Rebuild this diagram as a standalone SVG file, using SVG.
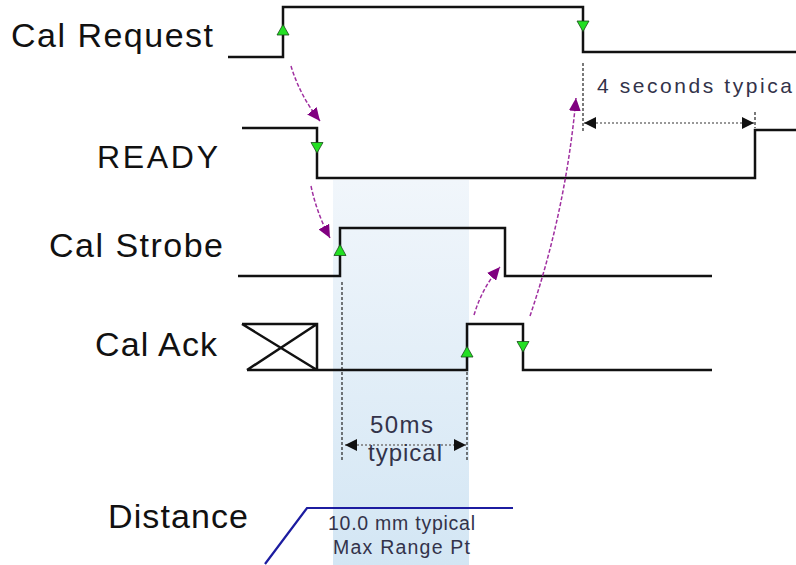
<svg xmlns="http://www.w3.org/2000/svg" width="796" height="565" viewBox="0 0 796 565">
<style>
.lbl{font-family:"Liberation Sans",Arial,sans-serif;font-size:34px;fill:#111}
.sig{fill:none;stroke:#111;stroke-width:2.5;stroke-linejoin:miter}
.edge{fill:#22e022;stroke:#1a4a1a;stroke-width:0.8}
.vdash{fill:none;stroke:#222;stroke-width:1.2;stroke-dasharray:3,2}
.dim{fill:none;stroke:#777;stroke-width:1.5;stroke-dasharray:2,2}
.note{font-family:"Liberation Sans",Arial,sans-serif;fill:#33334a}
.cause{fill:none;stroke:#a030a0;stroke-width:1.5;stroke-dasharray:4,2}
</style>
<defs>
<linearGradient id="shade" x1="0" y1="0" x2="0" y2="1">
<stop offset="0" stop-color="#f1f6fb"/>
<stop offset="1" stop-color="#d3e6f4"/>
</linearGradient>
<marker id="ph" markerUnits="userSpaceOnUse" markerWidth="14" markerHeight="12" refX="13" refY="6" orient="auto">
<path d="M0,0 L13,6 L0,12 Z" fill="#800080"/>
</marker>
<marker id="dh" markerUnits="userSpaceOnUse" markerWidth="13" markerHeight="12" refX="12" refY="6" orient="auto-start-reverse">
<path d="M0,0 L12,6 L0,12 Z" fill="#111"/>
</marker>
</defs>
<rect x="0" y="0" width="796" height="565" fill="#fff"/>
<rect id="window" x="333" y="180" width="136" height="385" fill="url(#shade)"/>

<g id="cal-request">
<text class="lbl" x="11" y="47" textLength="202" lengthAdjust="spacing">Cal Request</text>
<path class="sig" d="M228,57 H283 V7 H583 V52 H796"/>
<path class="edge" d="M283,24.5 L277,35 L289,35 Z"/>
<path class="edge" d="M577,21 L589,21 L583,31.5 Z"/>
</g>

<g id="ready">
<text class="lbl" x="97" y="168" textLength="121" lengthAdjust="spacing" style="font-size:32px">READY</text>
<path class="sig" d="M242,128 H317 V178 H755 V130 H796"/>
<path class="edge" d="M311,142.5 L323,142.5 L317,153 Z"/>
</g>

<g id="cal-strobe">
<text class="lbl" x="49" y="257" textLength="174" lengthAdjust="spacing">Cal Strobe</text>
<path class="sig" d="M238,276 H340 V228 H505 V276 H712"/>
<path class="edge" d="M340,244.5 L334,255.5 L346,255.5 Z"/>
</g>

<g id="cal-ack">
<text class="lbl" x="95" y="356" textLength="122" lengthAdjust="spacing">Cal Ack</text>
<path class="sig" d="M242,324 H317 V370 M242,324 L317,370 M317,324 L247,370 M247,370 H467 V324 H523 V370 H712"/>
<path class="edge" d="M467,346.5 L461,357 L473,357 Z"/>
<path class="edge" d="M517,341.5 L529,341.5 L523,352 Z"/>
</g>

<g id="distance">
<text class="lbl" x="108" y="528" textLength="140" lengthAdjust="spacing">Distance</text>
<path d="M265,564 L307,508 H513" fill="none" stroke="#1c1ca0" stroke-width="2.2"/>
<text class="note" x="328" y="530" font-size="19.5" textLength="147" lengthAdjust="spacing">10.0 mm typical</text>
<text class="note" x="333" y="554" font-size="19.5" textLength="137" lengthAdjust="spacing">Max Range Pt</text>
</g>

<g id="dim-50ms">
<path class="vdash" d="M342,282 V462 M467,372 V462"/>
<path class="dim" d="M345,445 H466" marker-start="url(#dh)" marker-end="url(#dh)"/>
<text class="note" x="370" y="433" font-size="24" textLength="63" lengthAdjust="spacing">50ms</text>
<text class="note" x="368" y="461" font-size="24" textLength="74" lengthAdjust="spacing">typical</text>
</g>

<g id="dim-4s">
<path class="vdash" d="M583,63 V133 M755,112 V128"/>
<path class="dim" d="M584,123 H754" marker-start="url(#dh)" marker-end="url(#dh)"/>
<text class="note" x="597" y="93" font-size="21" textLength="195" lengthAdjust="spacing">4 seconds typica</text>
</g>

<g id="connectors">
<path class="cause" d="M291,66 Q300,96 320,121" marker-end="url(#ph)"/>
<path class="cause" d="M311,186 Q317,214 330,238" marker-end="url(#ph)"/>
<path class="cause" d="M474,315 Q482,288 500,267" marker-end="url(#ph)"/>
<path class="cause" d="M530,316 Q566,210 576,98" marker-end="url(#ph)"/>
</g>
</svg>
